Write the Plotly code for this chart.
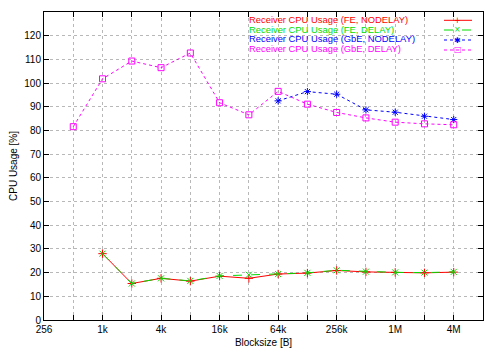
import plotly.graph_objects as go

blocksize = [512, 1024, 2048, 4096, 8192, 16384, 32768, 65536, 131072, 262144,
             524288, 1048576, 2097152, 4194304]
fe_nodelay = [None, 28.0, 15.4, 17.6, 16.4, 18.5, 17.6, 19.4, 19.8, 20.9, 20.3, 20.1, 19.9, 20.2]
fe_delay = [None, 28.0, 15.4, 17.6, 16.5, 18.6, 19.1, 19.4, 19.9, 21.0, 20.4, 20.1, 20.0, 20.3]
gbe_nodelay = [None, None, None, None, None, None, None, 92.5, 96.4, 95.3, 88.7, 87.7, 86.0, 84.6]
gbe_delay = [81.6, 101.8, 109.3, 106.5, 112.7, 91.7, 86.6, 96.5, 91.1, 87.6, 85.3, 83.5, 82.8, 82.4]

names = ["Receiver CPU Usage (FE, NODELAY)", "Receiver CPU Usage (FE, DELAY)",
         "Receiver CPU Usage (GbE, NODELAY)", "Receiver CPU Usage (GbE, DELAY)"]
colors = ["#ff0000", "#00dd00", "#0000ff", "#ff00ff"]
dashes = ["solid", "dash", "dot", "dot"]
symbols = ["cross-thin-open", "x-thin-open", "asterisk-open", "square-open"]
glyphs = ["+", "×", "✱", "□"]
series = [fe_nodelay, fe_delay, gbe_nodelay, gbe_delay]

x_tickvals = [2 ** k for k in range(8, 24)]
x_ticktext = ["256", "", "1k", "", "4k", "", "16k", "", "64k", "", "256k", "", "1M", "", "4M", ""]
y_tickvals = list(range(0, 130, 10))

fig = go.Figure()
for name, ys, c, d, s in zip(names, series, colors, dashes, symbols):
    fig.add_trace(go.Scatter(
        x=blocksize, y=ys, name=name, mode="lines+markers",
        line=dict(color=c, width=1, dash=d),
        marker=dict(symbol=s, size=6, color=c, line=dict(color=c, width=1)),
        connectgaps=False, showlegend=False))

# legend (text on the left, sample on the right, as in the reference)
text_y = [19.3, 29.0, 38.7, 48.4]
key_y = [20.3, 30.0, 40.0, 50.0]
PL, PR, PT, PB = 44, 483, 12, 320


def px(v):
    return (v - PL) / (PR - PL)


def py(v):
    return 1 - (v - PT) / (PB - PT)


for i, (name, c, d) in enumerate(zip(names, colors, dashes)):
    fig.add_annotation(x=px(246.5), y=py(text_y[i]), xref="paper", yref="paper",
                       text=name, showarrow=False, xanchor="left", yanchor="middle",
                       font=dict(color=c, size=9.4, family="Liberation Sans, Arial"))
    fig.add_shape(type="line", xref="paper", yref="paper",
                  x0=px(444), x1=px(472), y0=py(key_y[i]), y1=py(key_y[i]),
                  line=dict(color=c, width=1, dash=d))
    fig.add_annotation(x=px(457.5), y=py(key_y[i]), xref="paper", yref="paper",
                       text=glyphs[i], showarrow=False, xanchor="center", yanchor="middle",
                       font=dict(color=c, size=8, family="DejaVu Sans"))

axis_common = dict(showline=True, linecolor="black", linewidth=1, mirror="ticks",
                   ticks="inside", ticklen=5, tickcolor="black", automargin=False,
                   showgrid=True, gridcolor="#b8b8b8", griddash="dot", gridwidth=1,
                   zeroline=False, tickfont=dict(size=10, color="black",
                                                 family="Liberation Sans, Arial"))

fig.update_layout(
    width=500, height=350,
    margin=dict(l=PL, r=500 - PR, t=PT, b=350 - PB),
    paper_bgcolor="white", plot_bgcolor="white",
    font=dict(family="Liberation Sans, Arial", size=10, color="black"),
    xaxis=dict(type="log", range=[2.408240, 6.923689], tickvals=x_tickvals, ticktext=x_ticktext,
               title=dict(text="Blocksize [B]", standoff=4, font=dict(size=10)), **axis_common),
    yaxis=dict(range=[0, 130], tickvals=y_tickvals,
               title=dict(text="CPU Usage [%]", standoff=4, font=dict(size=10)), **axis_common),
)

fig.write_html("out.html", config={"displayModeBar": False},
               post_script="document.body.style.margin='0';document.body.style.overflow='hidden';")
